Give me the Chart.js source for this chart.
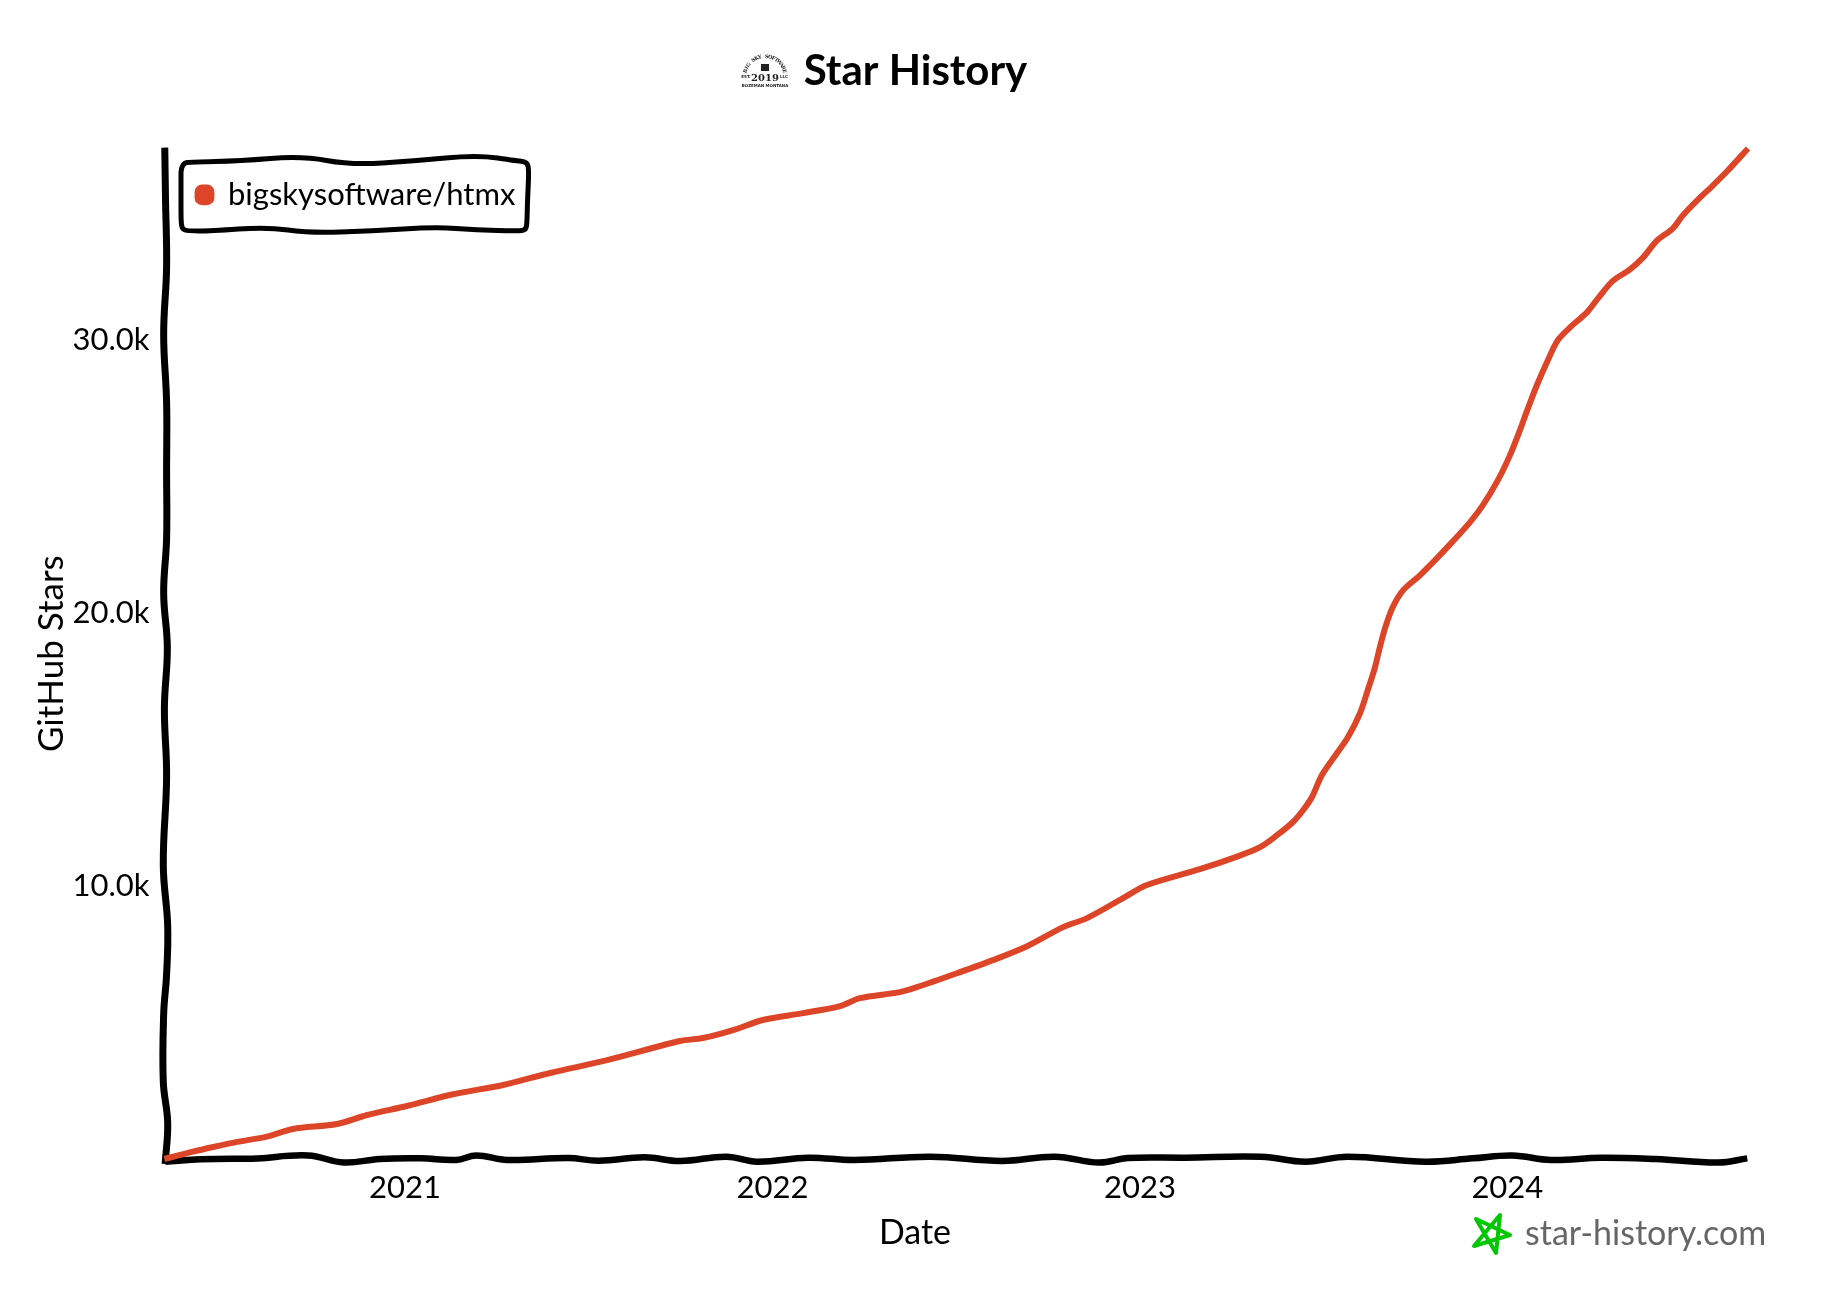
<!DOCTYPE html>
<html>
<head>
<meta charset="utf-8">
<title>Star History</title>
<script src="https://cdn.jsdelivr.net/npm/chart.js@4/dist/chart.umd.min.js"></script>
<style>
  html,body{margin:0;padding:0;background:#fff;}
  canvas{display:block;}
</style>
</head>
<body>
<canvas id="starChart" width="1831" height="1307"></canvas>
<script>
const seriesLabel = 'bigskysoftware/htmx';
const xTickYears = [2021, 2022, 2023, 2024];
const yTickValues = [10000, 20000, 30000];
const yTickLabels = ['10.0k', '20.0k', '30.0k'];

// decimal years
const dateYears = [
  2020.345, 2020.42, 2020.478, 2020.543, 2020.624, 2020.695, 2020.815, 2020.897,
  2021.005, 2021.131, 2021.267, 2021.395, 2021.55, 2021.748, 2021.811, 2021.893,
  2021.974, 2022.083, 2022.184, 2022.238, 2022.347, 2022.393, 2022.502, 2022.6,
  2022.693, 2022.791, 2022.856, 2022.954, 2023.019, 2023.163, 2023.27, 2023.327,
  2023.373, 2023.416, 2023.444, 2023.468, 2023.495, 2023.536, 2023.566, 2023.599,
  2023.62, 2023.639, 2023.653, 2023.667, 2023.688, 2023.716, 2023.762, 2023.808,
  2023.849, 2023.898, 2023.933, 2023.974, 2024.007, 2024.034, 2024.056, 2024.08,
  2024.11, 2024.137, 2024.17, 2024.216, 2024.246, 2024.287, 2024.333, 2024.369,
  2024.407, 2024.45, 2024.477, 2024.516, 2024.559, 2024.6, 2024.655
];
const stars = [
  0, 260, 440, 625, 820, 1100, 1280, 1610,
  1940, 2370, 2710, 3150, 3620, 4320, 4430, 4720,
  5090, 5340, 5600, 5890, 6110, 6290, 6800, 7280,
  7790, 8490, 8820, 9550, 10030, 10610, 11100, 11416,
  11855, 12330, 12770, 13245, 14050, 14855, 15440, 16320,
  17160, 17965, 18735, 19430, 20200, 20820, 21370, 21990,
  22575, 23310, 23930, 24845, 25760, 26675, 27480, 28320,
  29235, 29970, 30440, 30990, 31500, 32150, 32560, 33000,
  33625, 34065, 34540, 35090, 35640, 36190, 37000
];

// hand drawn x axis: wobble around zero
const xAxisYears = [
  2020.348, 2020.445, 2020.584, 2020.736, 2020.833, 2020.931, 2021.042, 2021.139,
  2021.194, 2021.278, 2021.444, 2021.527, 2021.652, 2021.749, 2021.874, 2021.958,
  2022.097, 2022.222, 2022.43, 2022.625, 2022.768, 2022.889, 2022.967, 2023.123,
  2023.33, 2023.451, 2023.565, 2023.778, 2023.906, 2024.013, 2024.12, 2024.255,
  2024.404, 2024.575, 2024.653
];
const xAxisStars = [
  -98, -12, 12, 130, -130, 0, 24, -37,
  130, -37, 37, -61, 61, -73, 85, -98,
  49, -37, 85, -73, 85, -130, 37, 49,
  85, -98, 85, -98, 24, 130, -37, 49,
  0, -130, 24
];
// hand drawn y axis: wobble around the left edge
const yAxisYears = [
  2020.346, 2020.348, 2020.351, 2020.343, 2020.351, 2020.351, 2020.351, 2020.343, 2020.353,
  2020.345, 2020.351, 2020.342, 2020.354, 2020.351, 2020.343, 2020.342, 2020.354, 2020.347
];
const yAxisStars = [
  37030, 35160, 32670, 30190, 27700, 25210, 22720, 20710, 18730,
  16500, 14010, 10760, 8530, 6770, 5300, 2820, 1320, -180
];

const RED = '#dd4528';
const FONT = 'Lato, "Open Sans", sans-serif';

const zip = (xs, ys) => xs.map((x, i) => ({x, y: ys[i]}));

function smoothPath(ctx, pts){
  ctx.beginPath();
  ctx.moveTo(pts[0][0], pts[0][1]);
  for(let i = 1; i < pts.length - 1; i++){
    const mx = (pts[i][0] + pts[i+1][0]) / 2, my = (pts[i][1] + pts[i+1][1]) / 2;
    ctx.quadraticCurveTo(pts[i][0], pts[i][1], mx, my);
  }
  const last = pts[pts.length-1];
  ctx.lineTo(last[0], last[1]);
}

// wavy frame around the legend, logo next to the title, watermark
const decorPlugin = {
  id: 'decor',
  afterLayout(chart){
    // legend goes inside the plot, title centred on the whole page
    chart.legend.top = chart.chartArea.top;
    chart.titleBlock.left = 0;
    chart.titleBlock.right = chart.width;
  },
  afterDraw(chart){
    const ctx = chart.ctx;
    ctx.save();

    // legend frame
    ctx.strokeStyle = '#000';
    ctx.lineWidth = 5;
    ctx.lineJoin = 'round';
    ctx.lineCap = 'round';
    smoothPath(ctx, [[181,172],[182,163],[192,162],[239,161],[302,156],[351,165],[414,161],[477,155],[518,161],[527,162],
      [529,170],[527.5,200],[527,222],[526,230],[518,231],[477,230],[435,227],[372,231],[309,233],[267,227],[210,231],[188,231],
      [182,229],[181,220],[181,200],[181,172]]);
    ctx.stroke();

    // x axis title, centred on the page and not on the plot
    ctx.fillStyle = '#000';
    ctx.font = '34px ' + FONT;
    ctx.textAlign = 'center';
    ctx.textBaseline = 'middle';
    ctx.fillText('Date', 915, 1233);

    // watermark star
    ctx.strokeStyle = '#00c800';
    ctx.lineWidth = 4;
    ctx.beginPath();
    ctx.moveTo(1500,1215); ctx.lineTo(1496,1253); ctx.lineTo(1476,1219);
    ctx.lineTo(1510,1235); ctx.lineTo(1474,1246); ctx.closePath();
    ctx.stroke();

    // watermark text
    ctx.fillStyle = '#666';
    ctx.font = '34px ' + FONT;
    ctx.textAlign = 'left';
    ctx.fillText('star-history.com', 1525, 1234);

    // little badge left of the title
    const cx = 765, cy = 77, r = 19;
    ctx.fillStyle = '#222';
    ctx.textAlign = 'center';
    ctx.textBaseline = 'alphabetic';
    const arcText = 'BIG SKY SOFTWARE';
    ctx.font = 'bold 5px "DejaVu Serif", serif';
    for(let i = 0; i < arcText.length; i++){
      const a = -Math.PI/2 + (i - (arcText.length-1)/2) * 0.17;
      ctx.save();
      ctx.translate(cx + r*Math.cos(a), cy + r*Math.sin(a));
      ctx.rotate(a + Math.PI/2);
      ctx.fillText(arcText[i], 0, 0);
      ctx.restore();
    }
    ctx.fillRect(761, 64, 8, 7);
    ctx.font = 'bold 10px "DejaVu Serif", serif';
    ctx.fillText('2019', cx, 81);
    ctx.font = 'bold 4px "DejaVu Sans", sans-serif';
    ctx.fillText('BOZEMAN MONTANA', cx, 87);
    ctx.fillText('EST.', 746, 78);
    ctx.fillText('LLC', 784, 78);

    ctx.restore();
  }
};

new Chart(document.getElementById('starChart').getContext('2d'), {
  type: 'line',
  data: {
    datasets: [
      {label: seriesLabel, data: zip(dateYears, stars), borderColor: RED, backgroundColor: RED,
       borderWidth: 6, pointRadius: 0, tension: 0.3, clip: false, order: 0},
      {label: 'x axis', data: zip(xAxisYears, xAxisStars), borderColor: '#000', borderWidth: 6.5,
       pointRadius: 0, tension: 0.4, clip: false, order: 1},
      {label: 'y axis', data: zip(yAxisYears, yAxisStars), borderColor: '#000', borderWidth: 7,
       pointRadius: 0, tension: 0.4, clip: false, order: 1}
    ]
  },
  options: {
    responsive: false,
    animation: false,
    layout: {padding: {right: 83}},
    scales: {
      x: {
        type: 'linear',
        min: 2020.348,
        max: 2024.655,
        border: {display: false},
        grid: {display: false},
        afterFit: s => { s.height = 148; },
        afterBuildTicks: s => { s.ticks = xTickYears.map(value => ({value})); },
        ticks: {
          color: '#000',
          padding: 2,
          maxRotation: 0,
          font: {family: FONT, size: 31},
          callback: v => String(v)
        }
      },
      y: {
        type: 'linear',
        min: 0,
        max: 37000,
        border: {display: false},
        grid: {display: false},
        afterFit: s => { s.width = 165.5; },
        afterBuildTicks: s => { s.ticks = yTickValues.map(value => ({value})); },
        ticks: {
          color: '#000',
          padding: 8,
          font: {family: FONT, size: 31},
          callback: v => yTickLabels[yTickValues.indexOf(v)]
        },
        title: {display: true, text: 'GitHub Stars', color: '#000', font: {family: FONT, size: 35}, padding: {top: 31, bottom: 0}}
      }
    },
    plugins: {
      title: {
        display: true,
        text: 'Star History',
        color: '#000',
        font: {family: FONT, size: 42, weight: 'bold'},
        padding: {top: 46, bottom: 52}
      },
      legend: {
        position: 'chartArea',
        align: 'start',
        labels: {
          color: '#000',
          padding: 31,
          font: {family: FONT, size: 31},
          usePointStyle: true,
          pointStyle: 'rectRounded',
          pointStyleWidth: 16,
          boxHeight: 12,
          filter: item => item.text === seriesLabel
        }
      },
      tooltip: {enabled: false}
    }
  },
  plugins: [decorPlugin]
});
</script>
</body>
</html>
